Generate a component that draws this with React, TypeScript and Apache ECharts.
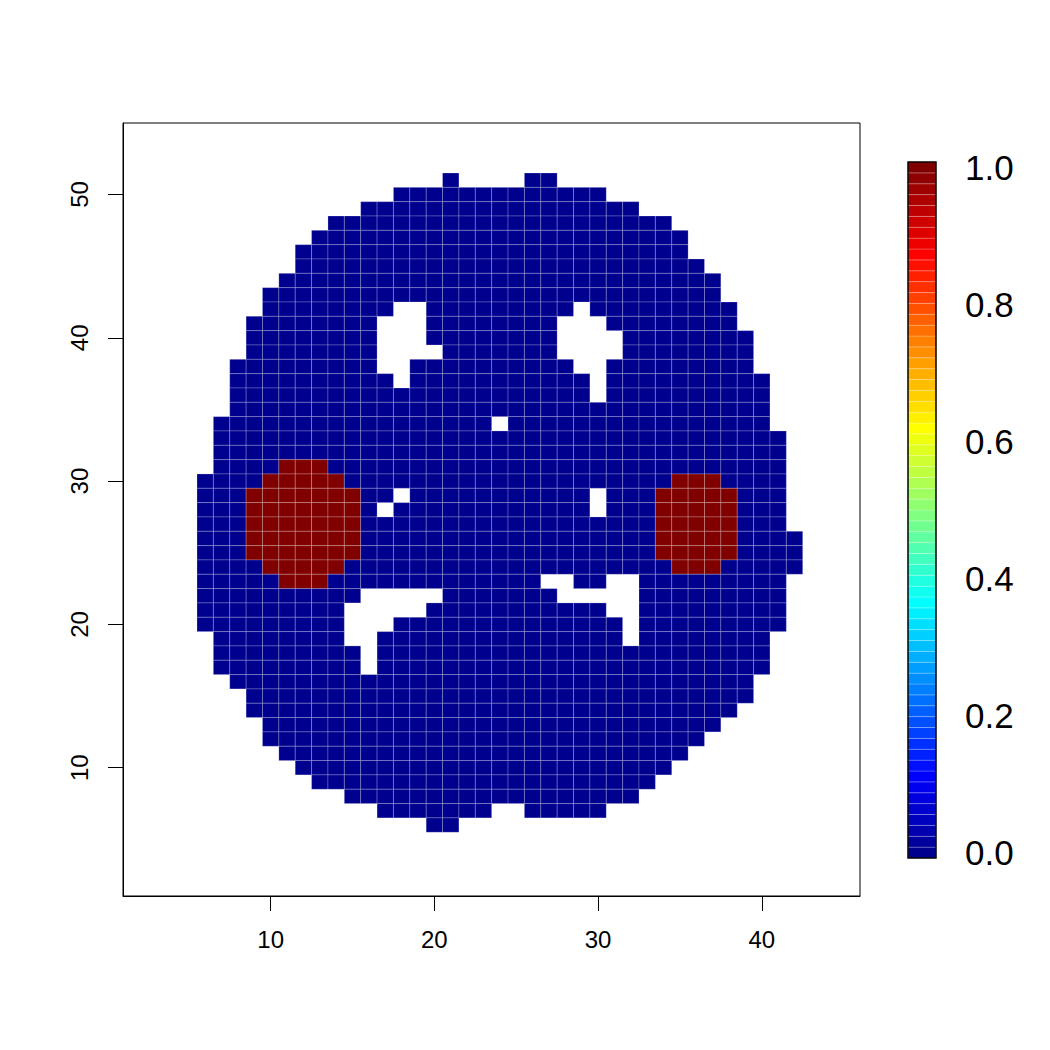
import React, { useEffect, useRef } from "react";
import * as echarts from "echarts";

// Mask rows: y, first column, last column (cells inside the brain mask)
const rowY = [51, 50, 49, 48, 47, 46, 45, 44, 43, 42, 41, 40, 39, 38, 37, 36, 35, 34, 33, 32, 31, 30, 29, 28, 27, 26, 25, 24, 23, 22, 21, 20, 19, 18, 17, 16, 15, 14, 13, 12, 11, 10, 9, 8, 7, 6];
const rowStart = [21, 18, 16, 14, 13, 12, 12, 11, 10, 10, 9, 9, 9, 8, 8, 8, 8, 7, 7, 7, 7, 6, 6, 6, 6, 6, 6, 6, 6, 6, 6, 6, 7, 7, 7, 8, 9, 9, 10, 10, 11, 12, 13, 15, 17, 20];
const rowEnd = [27, 30, 32, 34, 35, 35, 36, 37, 37, 38, 38, 39, 39, 39, 40, 40, 40, 40, 41, 41, 41, 41, 41, 41, 41, 42, 42, 42, 41, 41, 41, 41, 40, 40, 40, 39, 39, 38, 37, 36, 35, 34, 33, 32, 30, 21];

// Holes (missing cells): [y, x from, x to]
const holeSpans: number[][] = [
  [51, 22, 25],
  [42, 18, 19], [42, 29, 29],
  [41, 17, 19], [41, 28, 30],
  [40, 17, 19], [40, 28, 31],
  [39, 17, 20], [39, 28, 31],
  [38, 17, 18], [38, 29, 30],
  [37, 18, 18], [37, 30, 30],
  [36, 30, 30],
  [34, 24, 24],
  [29, 18, 18], [29, 30, 30],
  [28, 17, 17], [28, 30, 30],
  [23, 27, 28], [23, 31, 32],
  [22, 16, 20], [22, 28, 32],
  [21, 15, 19], [21, 31, 32],
  [20, 15, 17], [20, 32, 32],
  [19, 15, 16], [19, 32, 32],
  [18, 16, 16],
  [17, 16, 16],
  [7, 24, 25],
];

// Cells with value 1: [y, x from, x to]
const activeSpans: number[][] = [
  [31, 11, 13],
  [30, 10, 14], [30, 35, 37],
  [29, 9, 15], [29, 34, 38],
  [28, 9, 15], [28, 34, 38],
  [27, 9, 15], [27, 34, 38],
  [26, 9, 15], [26, 34, 38],
  [25, 9, 15], [25, 34, 38],
  [24, 10, 14], [24, 35, 37],
  [23, 11, 13],
];

const xTicks = [10, 20, 30, 40];
const yTicks = [10, 20, 30, 40, 50];
const barTicks = [0, 0.2, 0.4, 0.6, 0.8, 1.0];

// tim.colors(64) palette
const palette = [
  "#00008F", "#00009F", "#0000AF", "#0000BF", "#0000CF", "#0000DF", "#0000EF", "#0000FF",
  "#0010FF", "#0020FF", "#0030FF", "#0040FF", "#0050FF", "#0060FF", "#0070FF", "#0080FF",
  "#008FFF", "#009FFF", "#00AFFF", "#00BFFF", "#00CFFF", "#00DFFF", "#00EFFF", "#00FFFF",
  "#10FFEF", "#20FFDF", "#30FFCF", "#40FFBF", "#50FFAF", "#60FF9F", "#70FF8F", "#80FF80",
  "#8FFF70", "#9FFF60", "#AFFF50", "#BFFF40", "#CFFF30", "#DFFF20", "#EFFF10", "#FFFF00",
  "#FFEF00", "#FFDF00", "#FFCF00", "#FFBF00", "#FFAF00", "#FF9F00", "#FF8F00", "#FF8000",
  "#FF7000", "#FF6000", "#FF5000", "#FF4000", "#FF3000", "#FF2000", "#FF1000", "#FF0000",
  "#EF0000", "#DF0000", "#CF0000", "#BF0000", "#AF0000", "#9F0000", "#8F0000", "#800000",
];

const FONT = "'Liberation Sans', Arial, Helvetica, sans-serif";
const SEAM = "rgba(255,255,255,0.35)";

const BAR = { left: 908, top: 162, width: 28, height: 696 };

function buildCells() {
  const key = (x: number, y: number) => x + "_" + y;
  const holes = new Set<string>();
  holeSpans.forEach(([y, a, b]) => {
    for (let x = a; x <= b; x++) holes.add(key(x, y));
  });
  const active = new Set<string>();
  activeSpans.forEach(([y, a, b]) => {
    for (let x = a; x <= b; x++) active.add(key(x, y));
  });
  const cells: number[][] = [];
  rowY.forEach((y, i) => {
    for (let x = rowStart[i]; x <= rowEnd[i]; x++) {
      if (holes.has(key(x, y))) continue;
      cells.push([x, y, active.has(key(x, y)) ? 1 : 0]);
    }
  });
  return cells;
}

export default function App() {
  const ref = useRef<HTMLDivElement>(null);
  useEffect(() => {
    if (!ref.current) return;
    const chart = echarts.init(ref.current, undefined, { renderer: "svg" });
    const cells = buildCells();
    const barData = palette.map((_, i) => [0.5, i / (palette.length - 1), i]);
    const nLev = palette.length - 1;

    chart.setOption({
      animation: false,
      backgroundColor: "#ffffff",
      grid: [
        { left: 123, top: 123, width: 737, height: 773, show: true, borderColor: "#000", borderWidth: 1, backgroundColor: "transparent" },
        { ...BAR, show: false },
      ],
      xAxis: [
        {
          gridIndex: 0, type: "value", min: 0.98, max: 46.0,
          axisLine: { show: true, lineStyle: { color: "#000", width: 1 } },
          axisTick: { show: true, customValues: xTicks, length: 15, lineStyle: { color: "#000", width: 1 } },
          axisLabel: { show: true, customValues: xTicks, fontSize: 24, color: "#000", fontFamily: FONT, margin: 31 },
          splitLine: { show: false },
        },
        {
          gridIndex: 1, type: "value", min: 0, max: 1, show: false,
        },
      ],
      yAxis: [
        {
          gridIndex: 0, type: "value", min: 1.05, max: 54.99,
          axisLine: { show: true, lineStyle: { color: "#000", width: 1 } },
          axisTick: { show: true, customValues: yTicks, length: 15, lineStyle: { color: "#000", width: 1 } },
          axisLabel: { show: true, customValues: yTicks, fontSize: 24, color: "#000", fontFamily: FONT, margin: 32, rotate: 90 },
          splitLine: { show: false },
        },
        {
          gridIndex: 1, type: "value", position: "right",
          min: -0.5 / nLev, max: 1 + 0.5 / nLev,
          axisLine: { show: false },
          axisTick: { show: true, customValues: barTicks, length: 14, lineStyle: { color: "#000", width: 1 } },
          axisLabel: {
            show: true, customValues: barTicks, fontSize: 35, color: "#000", fontFamily: FONT, margin: 29,
            formatter: (v: number) => v.toFixed(1),
          },
          splitLine: { show: false },
        },
      ],
      graphic: [
        {
          type: "rect",
          z: 100,
          silent: true,
          shape: { x: BAR.left, y: BAR.top, width: BAR.width, height: BAR.height },
          style: { fill: "none", stroke: "#000", lineWidth: 1.5 },
        },
      ],
      series: [
        {
          type: "custom",
          xAxisIndex: 0, yAxisIndex: 0,
          data: cells,
          renderItem: (params: any, api: any) => {
            const x = api.value(0), y = api.value(1), v = api.value(2);
            const p0 = api.coord([x - 0.5, y + 0.5]);
            const p1 = api.coord([x + 0.5, y - 0.5]);
            return {
              type: "rect",
              shape: { x: p0[0], y: p0[1], width: p1[0] - p0[0], height: p1[1] - p0[1] },
              style: { fill: palette[Math.round(v * nLev)], stroke: SEAM, lineWidth: 0.6 },
            };
          },
        },
        {
          type: "custom",
          xAxisIndex: 1, yAxisIndex: 1,
          data: barData,
          renderItem: (params: any, api: any) => {
            const lev = api.value(1), idx = api.value(2);
            const p0 = api.coord([0, lev + 0.5 / nLev]);
            const p1 = api.coord([1, lev - 0.5 / nLev]);
            return {
              type: "rect",
              shape: { x: p0[0], y: p0[1], width: p1[0] - p0[0], height: p1[1] - p0[1] },
              style: { fill: palette[idx], stroke: SEAM, lineWidth: 0.6 },
            };
          },
        },
      ],
    });
    return () => chart.dispose();
  }, []);
  return (
    <div
      ref={ref}
      style={{ position: "absolute", left: 0, top: 0, width: 1050, height: 1050, background: "#fff" }}
    />
  );
}
